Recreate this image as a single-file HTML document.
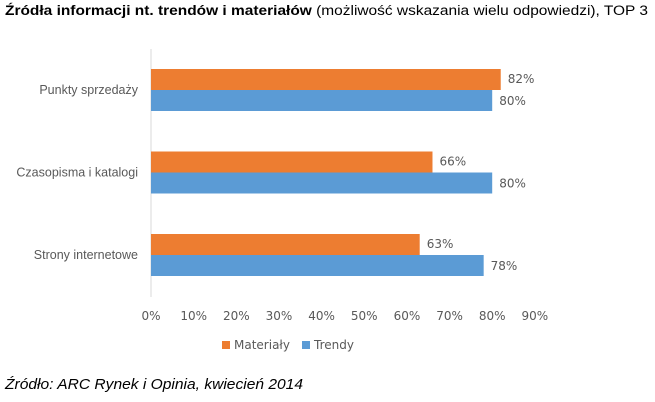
<!DOCTYPE html>
<html><head><meta charset="utf-8"><style>
body{margin:0;background:#fff;}
svg{display:block;font-family:"Liberation Sans",sans-serif;}
.c{font-family:"DejaVu Sans","Liberation Sans",sans-serif;}
</style></head><body>
<svg id="chart" width="655" height="402" viewBox="0 0 655 402">
<text x="5" y="15" font-size="13.5" fill="#000" textLength="643" lengthAdjust="spacingAndGlyphs"><tspan font-weight="bold">Źródła informacji nt. trendów i materiałów</tspan> (możliwość wskazania wielu odpowiedzi), TOP 3</text>
<line x1="151" y1="49" x2="151" y2="297" stroke="#d9d9d9"/>
<g id="bars"></g>
<g id="ticks"></g>
<g>
<rect x="222" y="341" width="8" height="8" fill="#ed7d31"/>
<text class="c" x="234" y="349" font-size="12" fill="#595959">Materiały</text>
<rect x="302" y="341" width="8" height="8" fill="#5b9bd5"/>
<text class="c" x="314" y="349" font-size="12" fill="#595959">Trendy</text>
</g>
<text x="5" y="389" font-size="15" font-style="italic" fill="#000" textLength="298" lengthAdjust="spacingAndGlyphs">Źródło: ARC Rynek i Opinia, kwiecień 2014</text>
</svg>
<script>
const categories=["Punkty sprzedaży","Czasopisma i katalogi","Strony internetowe"];
const materialy=[82,66,63];
const trendy=[80,80,78];
const tickLabels=["0%","10%","20%","30%","40%","50%","60%","70%","80%","90%"];
const tickValues=[0,10,20,30,40,50,60,70,80,90];
const NS="http://www.w3.org/2000/svg";
const x=v=>151+v*4.265;
const catY=i=>90+i*82.5;
function mk(t,a,p){const e=document.createElementNS(NS,t);for(const k in a)e.setAttribute(k,a[k]);p.appendChild(e);return e;}
const gb=document.getElementById('bars'),gt=document.getElementById('ticks');
categories.forEach((c,i)=>{
  const cy=catY(i);
  const lab=mk('text',{x:138,y:cy+4,'text-anchor':'end','font-size':12.5,fill:'#595959'},gb);
  lab.textContent=c;
  
  
  const b1=mk('rect',{x:x(0),y:cy-21,width:x(materialy[i])-x(0),height:21,fill:'#ed7d31'},gb);
  
  
  const b2=mk('rect',{x:x(0),y:cy,width:x(trendy[i])-x(0),height:21,fill:'#5b9bd5'},gb);
  
  
  const l1=mk('text',{x:x(materialy[i])+7,y:cy-7,'font-size':12,fill:'#595959',class:'c'},gb);
  l1.textContent=materialy[i]+'%';
  
  
  const l2=mk('text',{x:x(trendy[i])+7,y:cy+15,'font-size':12,fill:'#595959',class:'c'},gb);
  l2.textContent=trendy[i]+'%';
  
  
});
tickValues.forEach((v,i)=>{
  const t=mk('text',{x:x(v),y:320,'text-anchor':'middle','font-size':12,fill:'#595959',class:'c'},gt);
  t.textContent=tickLabels[i];
  
  
});
</script>
</body></html>
